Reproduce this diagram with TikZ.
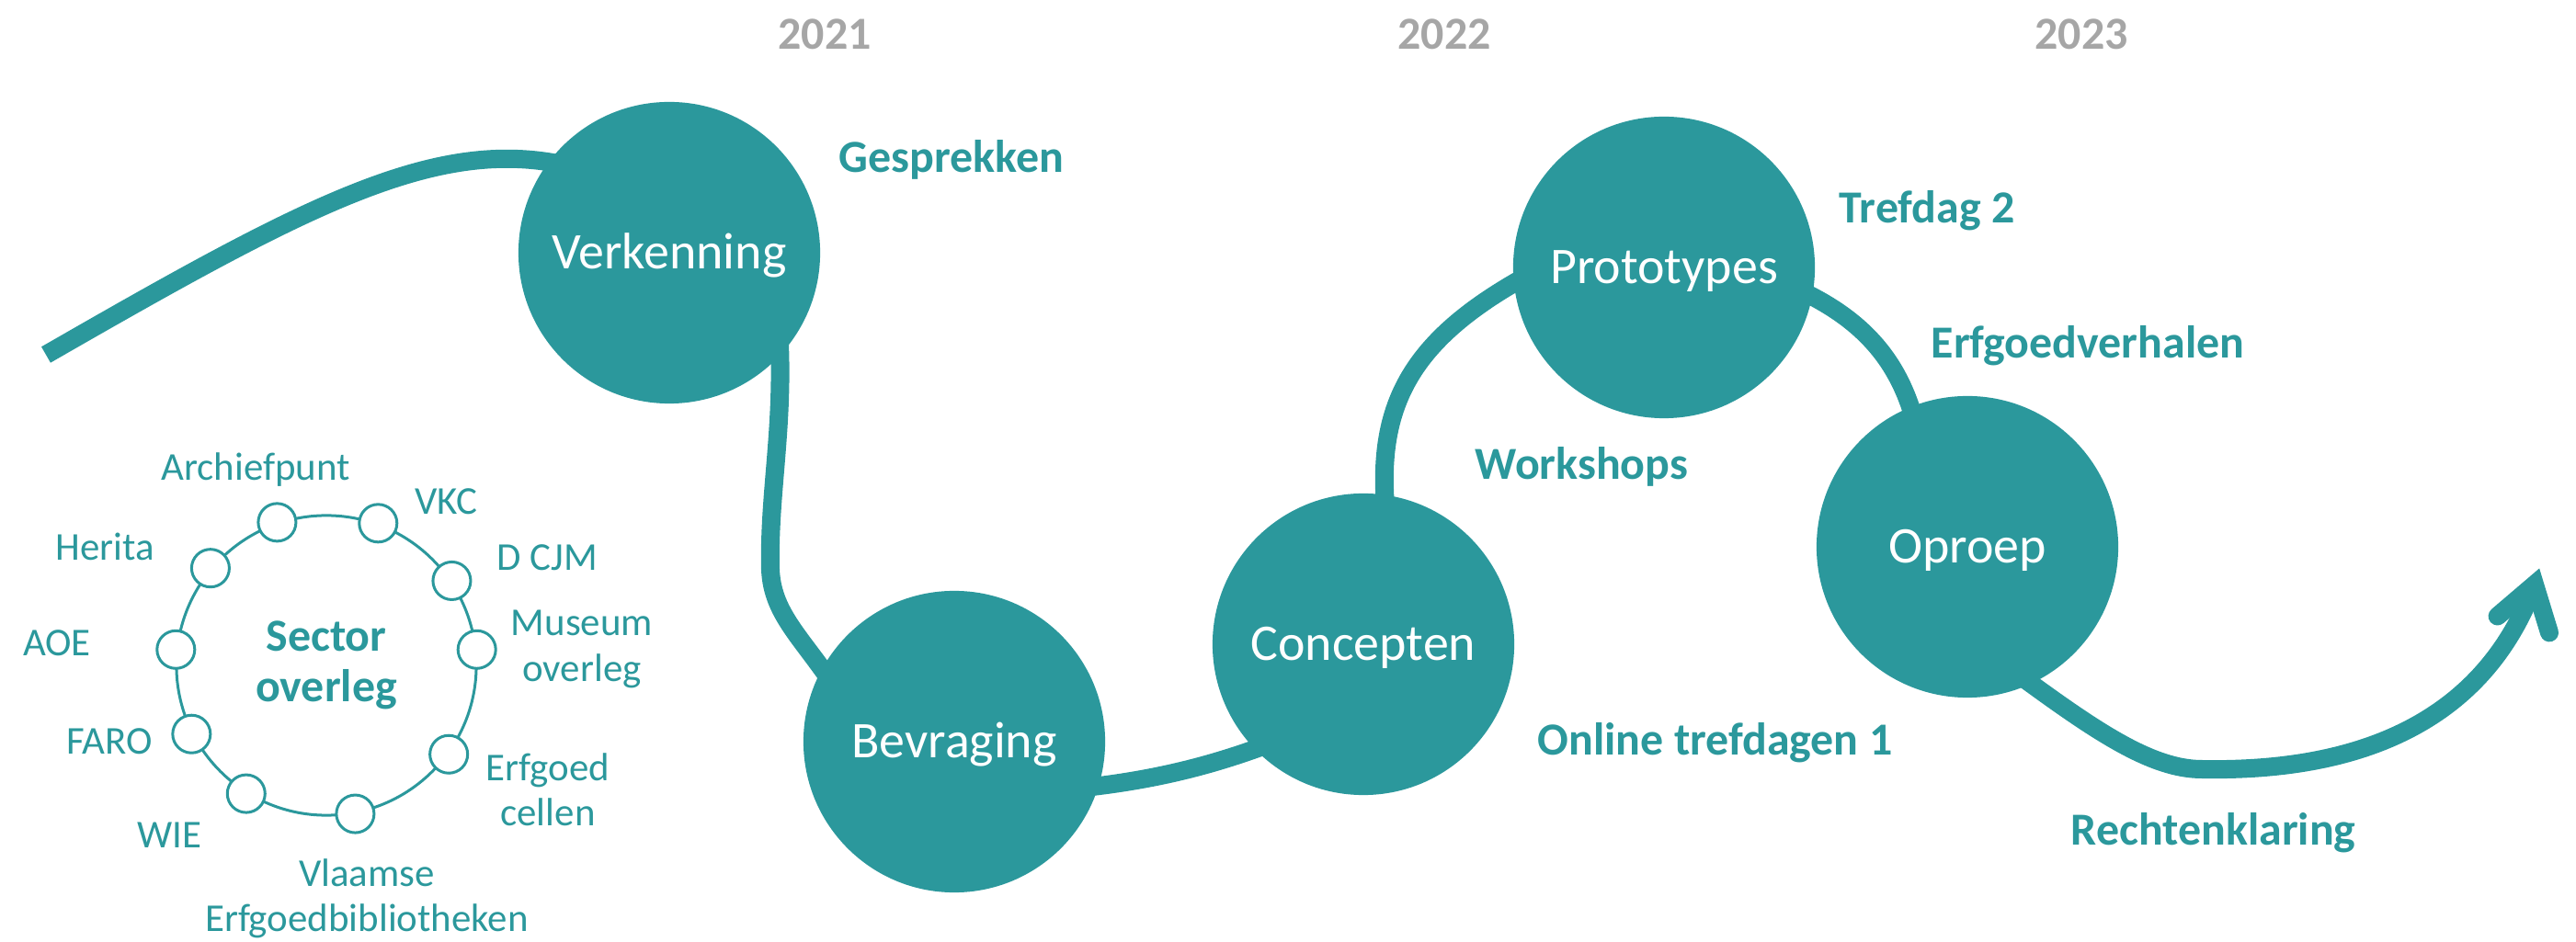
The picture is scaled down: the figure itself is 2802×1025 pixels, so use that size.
\documentclass[tikz,border=0pt]{standalone}
\usepackage{fontspec}
\setmainfont{Carlito}
\definecolor{tealc}{HTML}{2B989C}
\definecolor{greyc}{HTML}{A6A6A6}
\pgfdeclarelayer{bg}
\pgfsetlayers{bg,main}
\begin{document}
\begin{tikzpicture}[x=0.01cm,y=-0.01cm,
  road/.style={draw=tealc,line width=0.2cm},
  intoboth/.style={shorten <=-0.15cm,shorten >=-0.15cm},
  stage/.style={circle,fill=tealc,minimum size=3.28cm,inner sep=0pt,text=white,
    font=\fontsize{15.9pt}{19pt}\selectfont,text height=10.2pt,text depth=0pt},
  lbl/.style={text=tealc,font=\bfseries\fontsize{14.2pt}{17pt}\selectfont,inner sep=0pt,anchor=base west},
  yearlbl/.style={text=greyc,font=\bfseries\fontsize{14.2pt}{17pt}\selectfont,inner sep=0pt,anchor=base},
  member/.style={circle,draw=tealc,fill=white,line width=0.03cm,minimum size=0.41cm,inner sep=0pt},
  mlbl/.style={text=tealc,font=\fontsize{12.2pt}{14pt}\selectfont,align=center,inner sep=0pt},
]
\useasboundingbox (0,0) rectangle (2802,1025);

% years
\node[yearlbl] (y1) at (897,54) {2021};
\node[yearlbl] (y2) at (1571,54) {2022};
\node[yearlbl] (y3) at (2264,54) {2023};

% stages
\node[stage] (verk) at (728,275) {Verkenning};
\node[stage] (bevr) at (1038,807) {Bevraging};
\node[stage] (conc) at (1483,701) {Concepten};
\node[stage] (proto) at (1810,291) {Prototypes};
\node[stage] (oproep) at (2140,595) {Oproep};

% activity labels
\node[lbl] (l1) at (912,188) {Gesprekken};
\node[lbl] (l2) at (2000,243) {Trefdag 2};
\node[lbl] (l3) at (2100,390) {Erfgoedverhalen};
\node[lbl] (l4) at (1604,522) {Workshops};
\node[lbl] (l5) at (1672,822) {Online trefdagen 1};
\node[lbl] (l6) at (2252,920) {Rechtenklaring};

% free ends
\coordinate (start) at (50,386);
\coordinate (tip) at (2757,636);
\coordinate (wingl) at (2716.6,670.5);
\coordinate (wingr) at (2773,688.4);

\begin{pgfonlayer}{bg}
\draw[road,shorten >=-0.15cm] (start) .. controls (330,225) and (470,150) .. (verk.143);
\draw[road,intoboth] (verk.-43) .. controls (852,470) and (836,540) .. (838,620)
   .. controls (840,665) and (868,690) .. (bevr.151);
\draw[road,intoboth] (bevr.-17) .. controls (1260,848) and (1320,832) .. (conc.-136);
\draw[road,intoboth] (conc.82) .. controls (1498,440) and (1535,370) .. (proto.186);
\draw[road,intoboth] (proto.-11) .. controls (2030,350) and (2065,395) .. (oproep.112);
\draw[road,shorten <=-0.15cm] (oproep.-65) .. controls (2279,795) and (2340,837) .. (2395,837)
   .. controls (2560,840) and (2700,790) .. (tip);
\end{pgfonlayer}
\draw[road,line cap=round,line join=miter] (wingl) -- (tip) -- (wingr);

% sector overleg
\node[circle,draw=tealc,line width=0.03cm,minimum size=3.26cm,inner sep=0pt,text=tealc,
  font=\bfseries\fontsize{14.2pt}{15.8pt}\selectfont,align=center] (sector) at (355,724) {Sector\\overleg};
\node[member] (m1) at (sector.109.4) {};
\node[member] (m2) at (sector.70.7) {};
\node[member] (m3) at (sector.34.6) {};
\node[member] (m4) at (sector.6) {};
\node[member] (m5) at (sector.-36) {};
\node[member] (m6) at (sector.-79) {};
\node[member] (m7) at (sector.-122) {};
\node[member] (m8) at (sector.-153) {};
\node[member] (m9) at (sector.174.6) {};
\node[member] (m10) at (sector.140.8) {};

\node[mlbl,anchor=base] (t1) at (278,522.6) {Archiefpunt};
\node[mlbl,anchor=base] (t2) at (485,560) {VKC};
\node[mlbl,anchor=base] (t3) at (595,620.5) {D CJM};
\node[mlbl] (t4) at (633,706.5) {Museum\\overleg};
\node[mlbl] (t5) at (596,859) {Erfgoed\\cellen};
\node[mlbl] (t6) at (399,978) {Vlaamse\\Erfgoedbibliotheken};
\node[mlbl,anchor=base] (t7) at (184,923) {WIE};
\node[mlbl,anchor=base] (t8) at (119,821) {FARO};
\node[mlbl,anchor=base] (t9) at (62,714) {AOE};
\node[mlbl,anchor=base] (t10) at (114,610) {Herita};
\end{tikzpicture}
\end{document}
